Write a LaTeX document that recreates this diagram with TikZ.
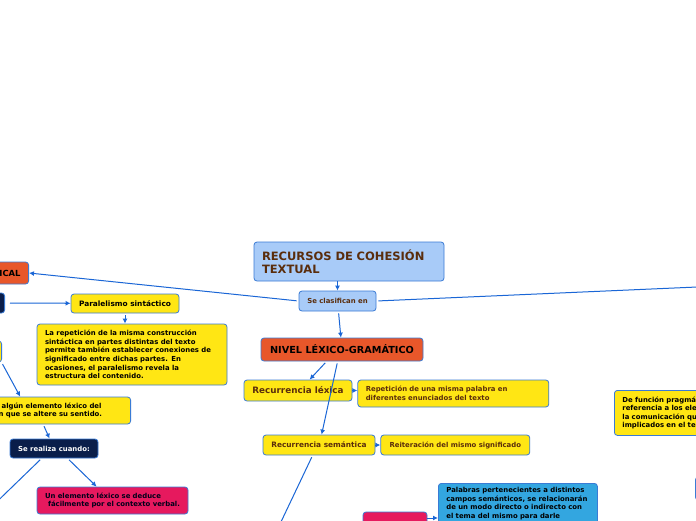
\documentclass[tikz,border=0pt]{standalone}
\usepackage{fontspec}
\setmainfont{DejaVu Sans}
\usepackage{xcolor}
\usepackage{tikz}
\usetikzlibrary{arrows.meta,positioning}
\definecolor{edgeblue}{HTML}{3A7BD5}
\definecolor{lineblue}{HTML}{1A66D6}
\definecolor{notey}{HTML}{FFE614}
\definecolor{skyfill}{HTML}{A8CBF8}
\definecolor{levelred}{HTML}{E8572A}
\definecolor{navyfill}{HTML}{0A1E4A}
\definecolor{pinkfill}{HTML}{E6195E}
\definecolor{bluefill}{HTML}{33A6E0}
\definecolor{browntext}{HTML}{5A2D0C}

\begin{document}
\begin{tikzpicture}[
    x=1pt, y=1pt,
    bubble/.style={
        draw=edgeblue,
        line width=0.8pt,
        rounded corners=3pt,
        inner xsep=8pt,
        inner ysep=3pt,
        font=\fontsize{6.9}{8.6}\selectfont\bfseries
    },
    yellowbox/.style={bubble, fill=notey},
    note/.style={yellowbox, align=left},
    midfont/.style={font=\fontsize{7.4}{9}\selectfont\bfseries},
    link/.style={draw=lineblue, line width=1pt, -{Latex[length=5pt,width=5pt]}, shorten <=2pt},
    tiplink/.style={link, shorten <=0pt}
]
    \fill[white] (0,0) rectangle (696,-520);
    \useasboundingbox (0,0) rectangle (696,-520);
    \clip (0,0) rectangle (696,-520);

    % centre
    \node[bubble, fill=skyfill, text=browntext, align=left, text width=174pt,
        minimum height=39pt, font=\fontsize{11.5}{13.5}\selectfont\bfseries]
        (title) at (349,-261.5) {RECURSOS DE COHESIÓN\\TEXTUAL};
    \node[bubble, fill=skyfill, text=browntext, inner xsep=2pt,
        minimum width=77pt, minimum height=20pt] (clasif) at (337.5,-301) {Se clasifican en};

    \node[bubble, fill=levelred, inner xsep=2pt, minimum width=162pt, minimum height=23pt,
        font=\fontsize{9.7}{11}\selectfont\bfseries] (nivel) at (342,-349.5) {NIVEL LÉXICO-GRAMÁTICO};

    % left branch
    \node[bubble, fill=levelred, anchor=east, text width=62pt, align=right, minimum height=22pt,
        font=\fontsize{8.4}{10}\selectfont\bfseries] (leftlevel) at (29,-273) {ICAL};
    \node[bubble, fill=navyfill, anchor=east, minimum width=40pt, minimum height=20pt] (leftdark) at (5,-303) {};
    \node[yellowbox, midfont, inner xsep=2pt, minimum width=108pt, minimum height=19pt]
        (paral) at (125,-303.5) {Paralelismo sintáctico};
    \node[note, text width=174pt, minimum height=61pt] (paraldesc) at (132,-354.5) {
        La repetición de la misma construcción\\
        sintáctica en partes distintas del texto\\
        permite también establecer conexiones de\\
        significado entre dichas partes. En\\
        ocasiones, el paralelismo revela la\\
        estructura del contenido.};
    \node[yellowbox, anchor=east, minimum width=22pt, minimum height=21pt] (leftnote) at (2,-351.5) {};
    \node[note, anchor=east, text width=124pt, minimum height=27pt] (elimina) at (131,-410.5) {
        \hspace*{3pt}algún elemento léxico del\\
        n que se altere su sentido.};
    \node[bubble, fill=navyfill, text=white, inner xsep=2pt, minimum width=88pt, minimum height=19pt]
        (realiza) at (54,-448.5) {Se realiza cuando:};
    \node[bubble, fill=pinkfill, text=black!90!blue, align=left, text width=135pt, minimum height=27pt]
        (deduce) at (112.5,-500.5) {
        Un elemento léxico se deduce\\
        \hspace*{3pt}fácilmente por el contexto verbal.};

    % right of centre
    \node[yellowbox, text=browntext, inner xsep=2pt, minimum width=108pt, minimum height=21pt,
        font=\fontsize{8.8}{10}\selectfont\bfseries] (replex) at (298,-390.5) {Recurrencia léxica};
    \node[note, text=browntext, text width=175pt, minimum height=27pt,
        right=5pt of replex.north east, anchor=north west] (replexdesc) {
        Repetición de una misma palabra en\\
        diferentes enunciados del texto};
    \node[yellowbox, midfont, text=browntext, inner xsep=2pt, minimum width=112pt, minimum height=20pt]
        (recsem) at (319,-445) {Recurrencia semántica};
    \node[yellowbox, text=browntext, inner xsep=2pt, minimum width=149pt, minimum height=20pt,
        right=5pt of recsem] (recsemdesc) {Reiteración del mismo significado};

    \node[bubble, fill=pinkfill, minimum width=64pt, minimum height=12pt] (pinkbox) at (395,-518) {};
    \node[bubble, fill=bluefill, align=left, text width=143pt, inner ysep=4pt,
        anchor=north west] (campos) at (438,-483) {
        Palabras pertenecientes a distintos\\
        campos semánticos, se relacionarán\\
        de un modo directo o indirecto con\\
        el tema del mismo para darle};

    \node[note, text width=160pt, minimum height=45pt, anchor=north west] (pragma) at (614,-390) {
        De función pragmá\\
        referencia a los ele\\
        la comunicación qu\\
        implicados en el te};
    \node[bubble, fill=skyfill, anchor=west, minimum width=40pt, minimum height=23pt] (rightbox) at (695,-488.5) {};

    \coordinate (farright) at (720,-286);
    \coordinate (farleft) at (-22,-520);
    \coordinate (farbelow) at (270,-545);

    % connectors
    \draw[tiplink] (clasif.north |- title.south) -- (clasif.north);
    \draw[link] (clasif) -- (nivel);
    \draw[link] (clasif.west) -- (leftlevel.east);
    \draw[link] (clasif.east) -- (farright);
    \draw[link] ([xshift=3pt]leftdark.east) -- (paral);
    \draw[link] (paral.south) -- (paral.south |- paraldesc.north);
    \draw[link] ([xshift=11pt]leftnote.south) -- ([xshift=30pt]elimina.north west);
    \draw[link] ([xshift=53pt]elimina.south west) -- ([xshift=40pt]realiza.north west);
    \draw[link] ([xshift=32pt]realiza.south west) -- (farleft);
    \draw[link] ([xshift=58pt]realiza.south west) -- ([xshift=60pt]deduce.north west);
    \draw[link] ([xshift=66pt]nivel.south west) -- ([xshift=66pt]replex.north west);
    \draw[link] ([xshift=77pt]nivel.south west) -- ([xshift=59pt]recsem.north west);
    \draw[tiplink] (replex.east) -- (replexdesc.west |- replex.east);
    \draw[tiplink] (recsem.east) -- (recsemdesc.west);
    \draw[link] ([xshift=50pt]recsem.south west) -- (farbelow);
    \draw[tiplink] (pinkbox.east) -- (campos.west |- pinkbox.east);
\end{tikzpicture}
\end{document}
